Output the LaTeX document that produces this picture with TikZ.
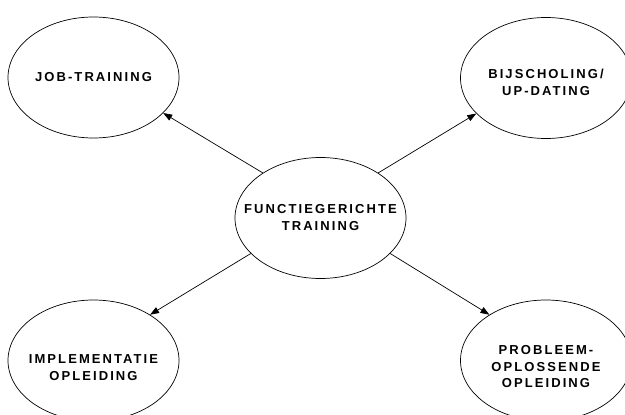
\documentclass[tikz,border=0pt]{standalone}
\usepackage{fontspec}
\newfontfamily\lab[LetterSpace=16]{Liberation Sans}
\usetikzlibrary{arrows.meta,shapes.geometric}
\tikzset{
  blob/.style={draw, ellipse, line width=0.7pt, minimum width=171pt, minimum height=121pt, inner sep=0pt},
  txt/.style={align=center, inner sep=0pt, font=\lab\bfseries\fontsize{13}{16.7}\selectfont},
  link/.style={line width=0.7pt, -{Triangle[length=9pt,width=6.5pt]}}
}
\begin{document}
\begin{tikzpicture}[x=1pt,y=-1pt]
\useasboundingbox (0,0) rectangle (625,415);
\node[blob] (c) at (320.5,218) {};
\node[txt] (ct) at (320.5,217.5) {FUNCTIEGERICHTE\\TRAINING};
\node[blob] (job) at (93.5,77.5) {};
\node[txt] (jobt) at (93.5,77.5) {JOB-TRAINING};
\node[blob] (bij) at (546,78) {};
\node[txt] (bijt) at (546,82.5) {BIJSCHOLING/\\UP-DATING};
\node[blob] (impl) at (93.5,360.5) {};
\node[txt] (implt) at (93.5,367.5) {IMPLEMENTATIE\\OPLEIDING};
\node[blob] (prob) at (546,360.5) {};
\node[txt] (probt) at (546,366.7) {PROBLEEM-\\OPLOSSENDE\\OPLEIDING};
\draw[link] (c.142) -- (job.-27);
\draw[link] (c.38) -- (bij.207);
\draw[link] (c.207) -- (impl.39);
\draw[link] (c.-27) -- (prob.141);
\end{tikzpicture}
\end{document}
